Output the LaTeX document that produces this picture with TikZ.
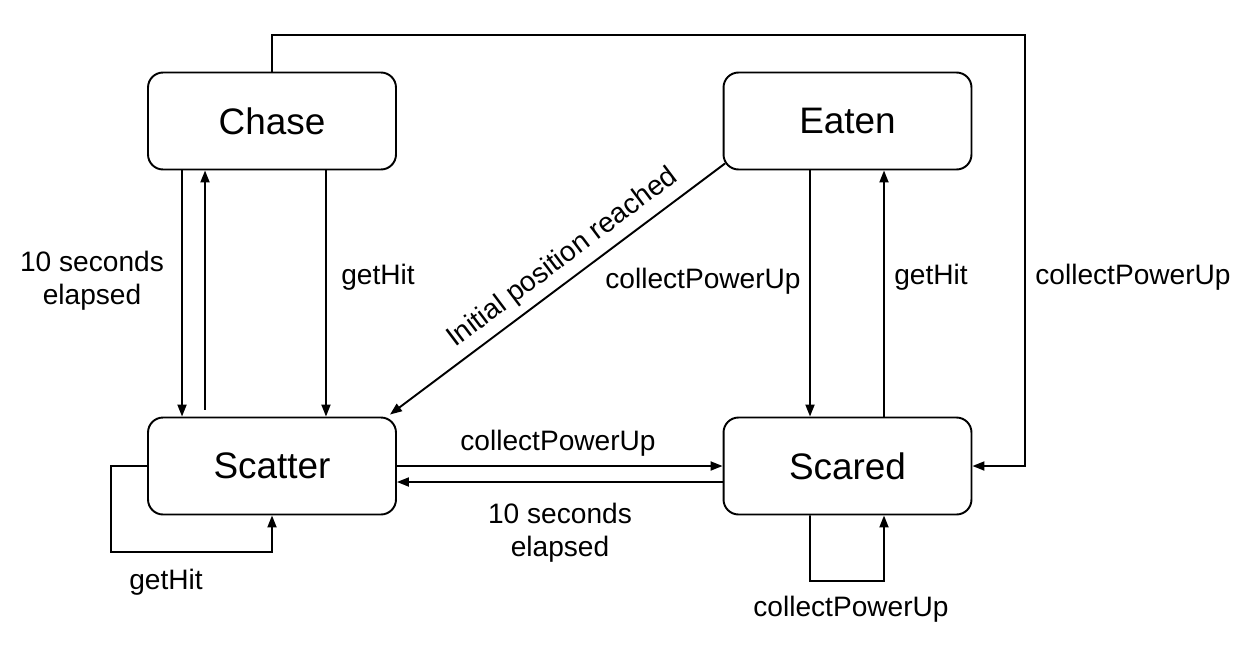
\documentclass[tikz,border=0pt]{standalone}
\usepackage{fontspec}
\setmainfont{Liberation Sans}
\usetikzlibrary{arrows.meta}
\begin{document}
\begin{tikzpicture}[x=0.02cm, y=-0.02cm, line width=1.1pt, -{Triangle[length=2.4mm,width=1.8mm]}]
\useasboundingbox (0,0) rectangle (1247,653);
\tikzstyle{every node} = [draw, rectangle, rounded corners=0.3cm, minimum width=4.96cm, minimum height=1.94cm, font=\fontsize{21}{25}\selectfont]
\node (chase) at (272,121) {Chase};
\node (eaten) at (847.5,121) {Eaten};
\node (scatter) at (272,466) {Scatter};
\node (scared) at (847.5,466) {Scared};
\tikzstyle{every node} = [align=center, font=\fontsize{16}{18.7}\selectfont]
\coordinate (top) at (1025,35);
\coordinate (loopA) at (111,552);
\coordinate (loopB) at (810,581);
\draw ([xshift=-1.8cm]chase.south) -- ([xshift=-1.8cm]scatter.north);
\draw ([xshift=-1.34cm,yshift=0.14cm]scatter.north) -- ([xshift=-1.34cm]chase.south);
\draw ([xshift=1.08cm]chase.south) -- ([xshift=1.08cm]scatter.north);
\draw ([xshift=0.05cm,yshift=0.14cm]eaten.south west) -- ([xshift=-0.14cm,yshift=0.04cm]scatter.north east);
\draw ([xshift=-0.75cm]eaten.south) -- ([xshift=-0.75cm]scared.north);
\draw ([xshift=0.73cm]scared.north) -- ([xshift=0.73cm]eaten.south);
\draw (chase.north) |- (top) |- (scared.east);
\draw (scatter.east) -- (scared.west);
\draw ([yshift=-0.32cm]scared.west) -- ([yshift=-0.32cm]scatter.east);
\draw (scatter.west) -| (loopA) -| (scatter.south);
\draw ([xshift=-0.75cm]scared.south) -- (loopB) -| ([xshift=0.73cm]scared.south);
\node (l1) at (92,281) {10 seconds\\elapsed};
\node (l2) at (378,277) {getHit};
\node[rotate=37] (l3) at (563,258) {Initial position reached};
\node (l4) at (703,281) {collectPowerUp};
\node (l5) at (931,277) {getHit};
\node (l6) at (1133,277) {collectPowerUp};
\node (l7) at (558,443) {collectPowerUp};
\node (l8) at (560,533) {10 seconds\\elapsed};
\node (l9) at (166,582) {getHit};
\node (l10) at (851,609) {collectPowerUp};
\end{tikzpicture}
\end{document}
